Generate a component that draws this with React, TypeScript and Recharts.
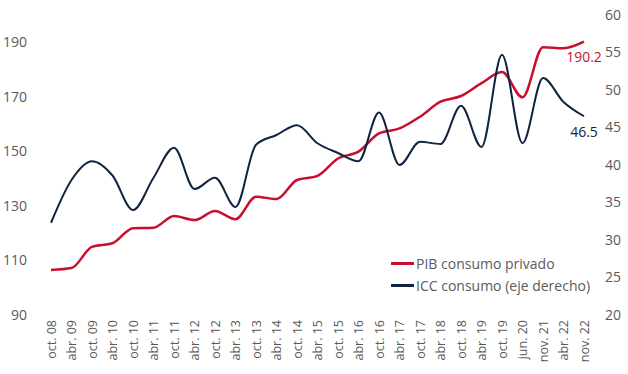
import { LineChart, Line, XAxis, YAxis } from "recharts"

const periods = [
  "oct. 08", "abr. 09", "oct. 09", "abr. 10", "oct. 10", "abr. 11", "oct. 11",
  "abr. 12", "oct. 12", "abr. 13", "oct. 13", "abr. 14", "oct. 14", "abr. 15",
  "oct. 15", "abr. 16", "oct. 16", "abr. 17", "oct. 17", "abr. 18", "oct. 18",
  "abr. 19", "oct. 19", "jun. 20", "nov. 21", "abr. 22", "nov. 22",
]

const pibConsumo = [
  106.5, 107.2, 115.0, 116.3, 121.8, 122.0, 126.3, 124.8, 128.1, 125.1, 133.4,
  132.5, 139.5, 141.0, 147.4, 149.9, 156.6, 158.4, 162.7, 168.2, 170.3, 175.0,
  179.1, 169.8, 188.2, 187.8, 190.2,
]

const iccConsumo = [
  32.3, 38.0, 40.5, 38.6, 34.0, 38.3, 42.3, 36.8, 38.3, 34.4, 42.7, 44.0, 45.3,
  42.9, 41.6, 40.5, 47.0, 40.0, 43.1, 42.8, 47.9, 42.4, 54.7, 42.9, 51.6, 48.4,
  46.5,
]

const leftTicks = [90, 110, 130, 150, 170, 190]
const rightTicks = [20, 25, 30, 35, 40, 45, 50, 55, 60]

const RED = "#c8102e"
const NAVY = "#0f2440"
const GREY = "#5a5a5a"
const FONT = "'Open Sans', sans-serif"

const data = periods.map((p, i) => ({ period: p, pib: pibConsumo[i], icc: iccConsumo[i] }))

function XTick({ x, y, payload }: any) {
  return (
    <text
      x={x}
      y={y}
      transform={`rotate(-90, ${x}, ${y})`}
      textAnchor="end"
      dominantBaseline="central"
      fill={GREY}
      fontSize={12.5}
      fontFamily={FONT}
    >
      {payload.value}
    </text>
  )
}

function lastLabel(color: string, fmt: (v: number) => string) {
  return (props: any) => {
    const { x, y, index, value } = props
    if (index !== data.length - 1) return null
    return (
      <text x={x} y={y + 15} textAnchor="middle" dominantBaseline="central" fill={color} fontSize={14} fontFamily={FONT}>
        {fmt(value)}
      </text>
    )
  }
}

const legendItems = [
  { label: "PIB consumo privado", color: RED },
  { label: "ICC consumo (eje derecho)", color: NAVY },
]

export default function App() {
  return (
    <div style={{ position: "absolute", left: 0, top: 0, width: 628, height: 374, background: "#fff" }}>
      <LineChart width={628} height={374} data={data} margin={{ top: 15, right: 0, bottom: 0, left: 0 }}>
        <XAxis
          dataKey="period"
          interval={0}
          height={59}
          axisLine={false}
          tickLine={false}
          tickSize={0}
          tickMargin={5}
          tick={<XTick />}
        />
        <YAxis
          yAxisId="left"
          domain={[90, 200]}
          ticks={leftTicks}
          width={51}
          axisLine={false}
          tickLine={false}
          tickSize={0}
          tickMargin={24}
          tick={{ fill: GREY, fontSize: 14, fontFamily: FONT }}
        />
        <YAxis
          yAxisId="right"
          orientation="right"
          domain={[20, 60]}
          ticks={rightTicks}
          width={44}
          axisLine={false}
          tickLine={false}
          tickSize={0}
          tickMargin={21}
          tick={{ fill: GREY, fontSize: 14, fontFamily: FONT, textAnchor: "start" }}
        />
        <Line
          yAxisId="left"
          dataKey="pib"
          name="PIB consumo privado"
          type="monotone"
          stroke={RED}
          strokeWidth={2.5}
          dot={false}
          isAnimationActive={false}
          label={lastLabel(RED, (v) => v.toFixed(1))}
        />
        <Line
          yAxisId="right"
          dataKey="icc"
          name="ICC consumo (eje derecho)"
          type="monotone"
          stroke={NAVY}
          strokeWidth={2}
          dot={false}
          isAnimationActive={false}
          label={lastLabel(NAVY, (v) => v.toFixed(1))}
        />
      </LineChart>
      <div style={{ position: "absolute", left: 391, top: 252, fontFamily: FONT, fontSize: 14, color: GREY }}>
        {legendItems.map((it) => (
          <div key={it.label} style={{ display: "flex", alignItems: "center", height: 22 }}>
            <span style={{ display: "inline-block", width: 23, height: 3, background: it.color, marginRight: 2 }} />
            {it.label}
          </div>
        ))}
      </div>
    </div>
  )
}
